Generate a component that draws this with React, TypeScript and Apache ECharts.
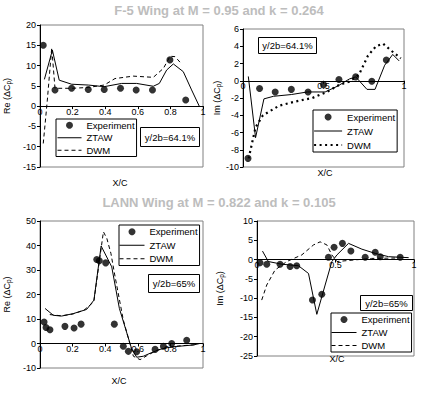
import React, { useEffect, useRef } from "react";
import * as echarts from "echarts";

// ---------- Data (X/C, value) ----------
const f5ReExperiment: [number, number][] = [
  [0.02, 15.0], [0.092, 4.0], [0.194, 4.4], [0.296, 4.1], [0.394, 4.1],
  [0.494, 4.4], [0.59, 4.0], [0.69, 4.0], [0.797, 11.4], [0.894, 1.5],
];
const f5ReZTAW: [number, number][] = [
  [0.027, 6.6], [0.076, 13.8], [0.118, 6.4], [0.194, 5.4], [0.296, 5.2],
  [0.394, 4.8], [0.501, 5.6], [0.593, 5.6], [0.695, 4.9], [0.732, 5.6],
  [0.777, 8.9], [0.818, 10.4], [0.879, 8.5], [0.93, 4.0], [0.977, 0.0],
];
const f5ReDWM: [number, number][] = [
  [0.02, -9.2], [0.045, 1.5], [0.072, 14.4], [0.092, 4.4], [0.194, 4.4],
  [0.296, 4.6], [0.394, 5.2], [0.46, 6.8], [0.572, 7.4], [0.695, 7.1],
  [0.757, 9.3], [0.798, 12.3], [0.828, 12.2], [0.869, 10.4],
];

const f5ImExperiment: [number, number][] = [
  [0.031, -9.0], [0.103, -0.9], [0.2, -1.3], [0.3, -1.0], [0.404, -1.3],
  [0.5, -0.45], [0.596, 0.15], [0.7, 0.45], [0.8, -0.05], [0.89, 2.4],
];
const f5ImZTAW: [number, number][] = [
  [0.033, 0.5], [0.078, -6.6], [0.13, -2.1], [0.19, -1.8], [0.3, -1.6],
  [0.4, -1.3], [0.51, -1.3], [0.59, -0.6], [0.66, 0.2], [0.7, 0.45],
  [0.77, -1.0], [0.82, -1.0], [0.88, 1.8], [0.93, 3.05], [0.97, 2.3],
];
const f5ImDWM: [number, number][] = [
  [0.035, -9.0], [0.078, -5.4], [0.124, -4.0], [0.224, -2.9], [0.327, -2.4],
  [0.43, -2.0], [0.52, -1.3], [0.596, -0.5], [0.66, -0.1], [0.72, 0.7],
  [0.776, 2.9], [0.826, 4.0], [0.87, 4.3], [0.92, 3.5], [0.98, 2.6],
];

const lannReExperiment: [number, number][] = [
  [0.025, 8.8], [0.037, 6.5], [0.061, 5.6], [0.153, 7.0], [0.209, 6.3],
  [0.252, 7.9], [0.348, 34.3], [0.364, 33.8], [0.403, 32.9], [0.456, 7.9],
  [0.511, -1.1], [0.542, -3.2], [0.593, -3.4], [0.706, -2.4], [0.757, -1.1],
  [0.808, 0.0], [0.9, 1.3],
];
const lannReZTAW: [number, number][] = [
  [0.031, 14.3], [0.082, 11.5], [0.133, 11.2], [0.204, 12.2], [0.286, 13.9],
  [0.331, 17.7], [0.375, 39.8], [0.44, 31.3], [0.487, 14.3], [0.562, -2.1],
  [0.593, -5.6], [0.634, -5.2], [0.675, -4.0], [0.736, -2.4], [0.78, -1.7],
  [0.84, -1.2], [0.94, -0.6], [0.98, 0.0],
];
const lannReDWM: [number, number][] = [
  [0.06, 11.8], [0.13, 11.3], [0.2, 12.0], [0.27, 13.6], [0.33, 17.0],
  [0.389, 45.6], [0.41, 42.9], [0.435, 36.8], [0.46, 27.5], [0.511, 9.6],
  [0.573, -5.2], [0.614, -6.6], [0.655, -5.0], [0.716, -2.8], [0.78, -1.7],
  [0.85, -1.0], [0.95, -0.5],
];

const lannImExperiment: [number, number][] = [
  [0.019, -0.8], [0.062, -1.2], [0.147, -1.2], [0.211, -1.8], [0.253, -1.6],
  [0.353, -10.5], [0.413, -9.0], [0.455, 0.6], [0.491, 3.2], [0.544, 4.2],
  [0.598, 2.2], [0.689, 0.6], [0.753, 1.9], [0.785, 0.75], [0.912, 0.6],
];
const lannImZTAW: [number, number][] = [
  [0.035, 2.2], [0.072, -0.5], [0.157, -1.2], [0.264, -1.6], [0.328, -3.6],
  [0.381, -14.2], [0.434, -6.6], [0.477, -0.5], [0.509, 1.2], [0.583, 4.2],
  [0.668, 2.7], [0.753, 1.6], [0.838, 0.75], [0.966, 0.5],
];
const lannImDWM: [number, number][] = [
  [0.03, -10.5], [0.062, -6.6], [0.115, -2.7], [0.19, -0.5], [0.285, 1.2],
  [0.36, 3.8], [0.402, 4.6], [0.445, 3.8], [0.477, 1.2], [0.51, -0.5],
  [0.62, -0.1], [0.73, 0.3], [0.88, 0.4],
];

const titles = [
  "F-5 Wing at M = 0.95 and k = 0.264",
  "LANN Wing at M = 0.822 and k = 0.105",
];
const spanLabels = ["y/2b=64.1%", "y/2b=64.1%", "y/2b=65%", "y/2b=65%"];
const yNames = ["Re (ΔC{p|p})", "Im (ΔC{p|p})", "Re (ΔC{p|p})", "Im (ΔC{p|p})"];
const xName = "X/C";
const seriesNames = ["Experiment", "ZTAW", "DWM"];

const FONT = "Liberation Sans, Arial, sans-serif";

export default function App() {
  const ref = useRef<HTMLDivElement>(null);

  useEffect(() => {
    if (!ref.current) return;
    const chart = echarts.init(ref.current, undefined, { renderer: "svg" });

    const grids = [
      { left: 40, top: 25, width: 163, height: 142 },
      { left: 243, top: 29, width: 161, height: 138 },
      { left: 40, top: 221, width: 163, height: 147 },
      { left: 257, top: 221, width: 157, height: 135 },
    ];
    const yCfg = [
      { min: -15, max: 20, interval: 5, gap: 28 },
      { min: -10, max: 6, interval: 2, gap: 21 },
      { min: -10, max: 50, interval: 10, gap: 28 },
      { min: -25, max: 10, interval: 5, gap: 32 },
    ];
    const xCfg = [
      { interval: 0.2, nameX: 120, nameY: 183 },
      { interval: 0.5, nameX: 325, nameY: 173 },
      { interval: 0.2, nameX: 119, nameY: 381 },
      { interval: 0.5, nameX: 337, nameY: 359 },
    ];

    const axisLabel = { fontSize: 9, fontFamily: FONT, color: "#000" };

    const data = [
      [f5ReExperiment, f5ReZTAW, f5ReDWM],
      [f5ImExperiment, f5ImZTAW, f5ImDWM],
      [lannReExperiment, lannReZTAW, lannReDWM],
      [lannImExperiment, lannImZTAW, lannImDWM],
    ];
    const dwmStyles: any[] = [
      { type: [4, 3], width: 1 },
      { type: [2, 3.5], width: 2.2 },
      { type: [4, 3], width: 1 },
      { type: [4, 3], width: 1 },
    ];

    const series: any[] = [];
    data.forEach((d, i) => {
      series.push({
        type: "scatter",
        name: seriesNames[0],
        xAxisIndex: i,
        yAxisIndex: i,
        data: d[0],
        symbol: "circle",
        symbolSize: 7,
        itemStyle: { color: "#000" },
        z: 3,
      });
      series.push({
        type: "line",
        name: seriesNames[1],
        xAxisIndex: i,
        yAxisIndex: i,
        data: d[1],
        symbol: "none",
        lineStyle: { color: "#000", width: 1, type: "solid" },
        itemStyle: { color: "#000" },
      });
      series.push({
        type: "line",
        name: seriesNames[2],
        xAxisIndex: i,
        yAxisIndex: i,
        data: d[2],
        symbol: "none",
        lineStyle: { color: "#000", ...dwmStyles[i] },
        itemStyle: { color: "#000" },
      });
    });

    const legendPos = [
      { left: 56, top: 119, itemWidth: 24, lineHeight: 12.5, padding: [0, 2, 0, 1] },
      { left: 313, top: 110, itemWidth: 28, lineHeight: 14, padding: [0, 2, 0, 0] },
      { left: 119, top: 225, itemWidth: 25, lineHeight: 13.5, padding: [0, 2, 0, 0] },
      { left: 331, top: 313, itemWidth: 25, lineHeight: 13, padding: [0, 2, 0, 0] },
    ];

    const legends = legendPos.map((p, i) => ({
      orient: "vertical",
      left: p.left,
      top: p.top,
      itemWidth: p.itemWidth,
      itemHeight: 7,
      itemGap: 0,
      padding: p.padding,
      borderColor: "#000",
      borderWidth: 1,
      backgroundColor: "#fff",
      selectedMode: false,
      textStyle: { fontSize: 9.5, fontFamily: FONT, color: "#000", lineHeight: p.lineHeight },
      data: [
        { name: "Experiment", icon: "circle" },
        { name: "ZTAW", itemStyle: { opacity: 0 }, lineStyle: { color: "#000", width: 1, type: "solid" } },
        { name: "DWM", itemStyle: { opacity: 0 }, lineStyle: { ...dwmStyles[i], color: "#000" } },
      ],
      z: 10,
    }));

    const boxes = [
      { x: 140, y: 127, w: 59, h: 19 },
      { x: 258, y: 37, w: 58, h: 16 },
      { x: 148, y: 274, w: 51, h: 18 },
      { x: 360, y: 295, w: 52, h: 15 },
    ];

    const graphic: any[] = [];
    titles.forEach((t, i) => {
      graphic.push({
        type: "text",
        x: 219,
        y: i === 0 ? 10.5 : 202.5,
        z: 100,
        style: {
          text: t,
          fill: "#bdbdbd",
          font: `bold 13px ${FONT}`,
          textAlign: "center",
          textVerticalAlign: "middle",
        },
      });
    });
    xCfg.forEach((c) => {
      graphic.push({
        type: "text",
        x: c.nameX,
        y: c.nameY,
        z: 100,
        style: {
          text: xName,
          fill: "#000",
          font: `9px ${FONT}`,
          textAlign: "center",
          textVerticalAlign: "middle",
        },
      });
    });
    boxes.forEach((b, i) => {
      graphic.push({
        type: "rect",
        z: 100,
        shape: { x: b.x + 0.5, y: b.y + 0.5, width: b.w, height: b.h },
        style: { fill: "#fff", stroke: "#000", lineWidth: 1 },
      });
      graphic.push({
        type: "text",
        z: 101,
        x: b.x + b.w / 2 + 0.5,
        y: b.y + b.h / 2 + 0.5,
        style: {
          text: spanLabels[i],
          fill: "#000",
          font: `9.5px ${FONT}`,
          textAlign: "center",
          textVerticalAlign: "middle",
        },
      });
    });

    chart.setOption({
      animation: false,
      backgroundColor: "#fff",
      grid: grids.map((g) => ({
        ...g,
        show: true,
        containLabel: false,
        outerBoundsMode: "none",
        borderColor: "#808080",
        borderWidth: 1,
        backgroundColor: "transparent",
      })),
      xAxis: xCfg.map((c, i) => ({
        type: "value",
        gridIndex: i,
        position: "bottom",
        // raise the whole axis (line, ticks, labels) to the y = 0 level
        offset: -((0 - yCfg[i].min) / (yCfg[i].max - yCfg[i].min)) * grids[i].height,
        min: 0,
        max: 1,
        interval: c.interval,
        axisLine: { show: true, onZero: false, lineStyle: { color: "#000", width: 1 } },
        axisTick: { show: true, length: 3, lineStyle: { color: "#000" } },
        axisLabel: { ...axisLabel, margin: 1 },
        splitLine: { show: false },
      })),
      yAxis: yCfg.map((c, i) => ({
        type: "value",
        gridIndex: i,
        min: c.min,
        max: c.max,
        interval: c.interval,
        name: yNames[i],
        nameLocation: "middle",
        nameRotate: 90,
        nameGap: c.gap,
        nameMoveOverlap: false,
        nameTextStyle: {
          fontSize: 9,
          fontFamily: FONT,
          color: "#000",
          rich: { p: { fontSize: 6.5, fontFamily: FONT, color: "#000", verticalAlign: "bottom", padding: [3, 0, 0, 0] } },
        },
        axisLine: { show: true, onZero: false, lineStyle: { color: "#000", width: 1 } },
        axisTick: { show: true, length: 3, lineStyle: { color: "#000" } },
        axisLabel: { ...axisLabel, margin: 4 },
        splitLine: { show: false },
      })),
      legend: legends,
      series,
      graphic,
    });

    return () => chart.dispose();
  }, []);

  return (
    <div
      ref={ref}
      style={{ position: "absolute", left: 0, top: 0, width: 425, height: 396, background: "#fff" }}
    />
  );
}
